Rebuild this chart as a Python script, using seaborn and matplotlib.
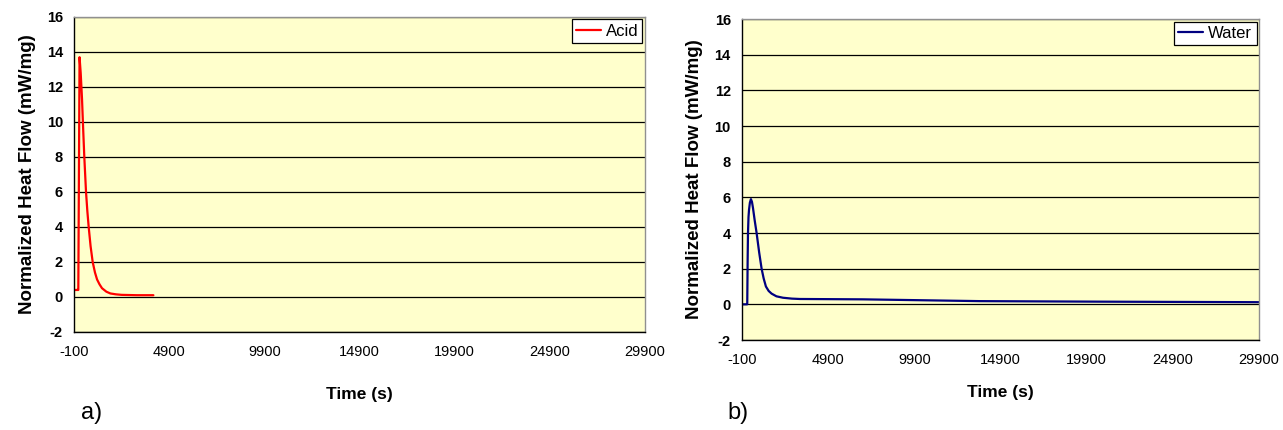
import matplotlib
matplotlib.use("Agg")
import matplotlib.pyplot as plt
import seaborn as sns

# data
acid_time = [-50, 120, 125, 190, 250, 320, 380, 440, 530, 600, 670, 770, 880, 1000,
             1110, 1240, 1370, 1600, 1810, 2100, 2400, 3200, 4070]
acid_flow = [0.4, 0.4, 0.4, 13.7, 12.8, 11.3, 9.6, 8.0, 6.0, 4.9, 4.0, 2.9, 2.0, 1.4,
             1.0, 0.72, 0.5, 0.3, 0.2, 0.15, 0.12, 0.1, 0.1]

water_time = [-100, 200, 207, 230, 250, 280, 310, 360, 420, 480, 540, 640, 750, 900,
              1040, 1160, 1290, 1450, 1620, 1900, 2280, 2800, 3260, 6920, 13700, 20700, 29900]
water_flow = [0.0, 0.0, 0.05, 2.5, 4.0, 4.9, 5.3, 5.7, 5.9, 5.75, 5.4, 4.7, 4.0, 2.9,
              2.0, 1.45, 1.0, 0.75, 0.6, 0.45, 0.37, 0.32, 0.3, 0.28, 0.18, 0.15, 0.12]

x_ticks = [-100, 4900, 9900, 14900, 19900, 24900, 29900]
y_ticks = [-2, 0, 2, 4, 6, 8, 10, 12, 14, 16]

sns.set_style("white")
plt.rcParams['font.family'] = ['Liberation Sans', 'DejaVu Sans']
plt.rcParams['text.color'] = 'black'
plt.rcParams['axes.labelcolor'] = 'black'
plt.rcParams['xtick.color'] = 'black'
plt.rcParams['ytick.color'] = 'black'

fig = plt.figure(figsize=(12.83, 4.30), dpi=100)
ax1 = fig.add_axes([0.0577, 0.228, 0.445, 0.7326])
ax2 = fig.add_axes([0.5783, 0.2093, 0.403, 0.7465])

panels = [
    (ax1, acid_time, acid_flow, "Acid", "#ff0000", "a)", 0.063, 20),
    (ax2, water_time, water_flow, "Water", "#000080", "b)", 0.567, 13),
]

for ax, t, v, name, col, tag, tag_x, xpad in panels:
    ax.set_facecolor("#ffffcc")
    sns.lineplot(x=t, y=v, ax=ax, color=col, lw=1.6, label=name,
                 estimator=None, sort=False)
    ax.set_xlim(-100, 29900)
    ax.set_ylim(-2, 16)
    ax.set_xticks(x_ticks)
    ax.set_yticks(y_ticks)
    ax.set_xticklabels([str(x) for x in x_ticks], fontsize=10.5)
    ax.set_yticklabels([str(y) for y in y_ticks], fontsize=10.5, fontweight="bold")
    ax.yaxis.grid(True, color="black", lw=0.9)
    ax.xaxis.grid(False)
    ax.set_axisbelow(True)
    for s in ["left", "bottom"]:
        ax.spines[s].set_color("black")
        ax.spines[s].set_linewidth(1.0)
    for s in ["top", "right"]:
        ax.spines[s].set_color("#909090")
        ax.spines[s].set_linewidth(1.0)
    ax.tick_params(axis="y", direction="out", length=5, width=1, color="black", pad=3)
    ax.tick_params(axis="x", direction="inout", length=7, width=1, color="black", pad=6)
    ax.set_xlabel("Time (s)", fontsize=12.5, fontweight="bold", labelpad=xpad)
    ax.set_ylabel("Normalized Heat Flow (mW/mg)", fontsize=13.5, fontweight="bold", labelpad=8)
    leg = ax.legend(loc="upper right", fontsize=12, fancybox=False, framealpha=1,
                    edgecolor="black", borderaxespad=0.15, handlelength=1.5,
                    handletextpad=0.3, borderpad=0.25)
    leg.get_frame().set_linewidth(0.9)
    fig.text(tag_x, 0.04, tag, fontsize=17, ha="left", va="center")

fig.savefig("out.png", dpi=100)
